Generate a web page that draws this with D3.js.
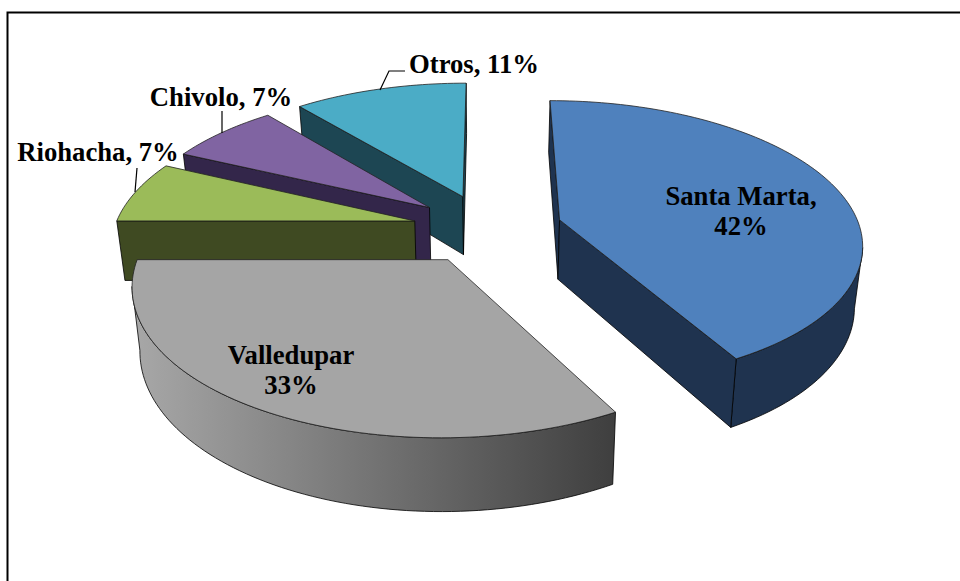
<!DOCTYPE html>
<html><head><meta charset="utf-8">
<script src="https://cdn.jsdelivr.net/npm/d3@7/dist/d3.min.js"></script>
<style>html,body{margin:0;padding:0;background:#fff}svg{display:block}
text{font-family:"Liberation Serif",serif;font-weight:bold;font-size:26.7px;fill:#000}</style>
</head><body><svg id="c" width="960" height="581"></svg>
<script>
(function(){
const categories=["Santa Marta","Valledupar","Riohacha","Chivolo","Otros"];
const shares=[42,33,7,7,11];
const topColors=["#4f81bd","#a5a5a5","#9bbb59","#8064a2","#4bacc6"];
const wallColors=["#1f334f","url(#grey)","#3f4a22","#33264a","#1d4653"];
const drawOrder=[4,3,2,0,1];
const labelLines=[["Santa Marta,","42%"],["Valledupar","33%"],["Riohacha, 7%"],["Chivolo, 7%"],["Otros, 11%"]];
const labelAt=[[741,205],[291,364],[98,161],[221,106],[474,73]];
const leaders=[null,null,[[135,192],[137,168]],[[222,133],[222,111]],[[380,90],[389,71],[405,71]]];

const cx=487.5, cy=228.5, R=300.5, tilt=0.466, dist=6.5, explode=0.25, depth=60, converge=0.978;
const svg=d3.select("#c");
const grad=svg.append("defs").append("linearGradient").attr("id","grey")
 .attr("gradientUnits","userSpaceOnUse").attr("x1",132).attr("x2",614).attr("y1",0).attr("y2",0);
grad.append("stop").attr("offset",0).attr("stop-color","#a8a8a8");
grad.append("stop").attr("offset",1).attr("stop-color","#3f3f3f");

svg.append("path").attr("d","M7.5,581V12.5H960").attr("fill","none").attr("stroke","#000").attr("stroke-width",2);

const arcs=d3.pie().sort(null)(shares);
function proj(x,y){const s=dist/(dist-y);return [cx+x*s*R, cy+y*s*R*tilt, s];}
function upper(p){return [p[0],p[1]];}
function lower(p){return [cx+(p[0]-cx)*converge,p[1]+depth*p[2]];}
const line=d3.line();

function outline(a){
 const mid=(a.startAngle+a.endAngle)/2;
 const ox=explode*Math.sin(mid), oy=-explode*Math.cos(mid);
 const n=Math.max(8,Math.round((a.endAngle-a.startAngle)*40));
 const pts=[proj(ox,oy)];
 d3.range(n+1).forEach(i=>{
  const t=a.startAngle+(a.endAngle-a.startAngle)*i/n;
  pts.push(proj(ox+Math.sin(t),oy-Math.cos(t)));
 });
 return pts;
}
drawOrder.forEach(i=>{
 const pts=outline(arcs[i]), g=svg.append("g");
 const L=pts.length;
 const runs=[];let cur=null;
 for(let k=0;k<L;k++){
  const p=pts[k],q=pts[(k+1)%L];
  const isCut=(k===0||k===L-1);
  if(q[0]<p[0]){
   if(cur&&!isCut&&!cur.cut){cur.pts.push(q);}
   else{cur={pts:[p,q],cut:isCut};runs.push(cur);}
  } else cur=null;
 }
 runs.forEach(r=>{
  const poly=r.pts.map(upper).concat(r.pts.slice().reverse().map(lower));
  g.append("path").attr("d",line(poly)+"Z").attr("fill",wallColors[i])
   .attr("stroke","#000").attr("stroke-width",0.8).attr("stroke-linejoin","round");
 });
 g.append("path").attr("d",line(pts.map(upper))+"Z").attr("fill",topColors[i])
  .attr("stroke","#222").attr("stroke-width",0.8).attr("stroke-linejoin","round");
});
leaders.forEach(l=>{ if(l) svg.append("path").attr("d",line(l)).attr("fill","none").attr("stroke","#000").attr("stroke-width",1.2); });
labelLines.forEach((ls,i)=>{
 const t=svg.append("text").attr("text-anchor","middle").attr("x",labelAt[i][0]).attr("y",labelAt[i][1]);
 ls.forEach((s,j)=>t.append("tspan").attr("x",labelAt[i][0]).attr("dy",j?30:0).text(s));
});
})();
</script></body></html>
